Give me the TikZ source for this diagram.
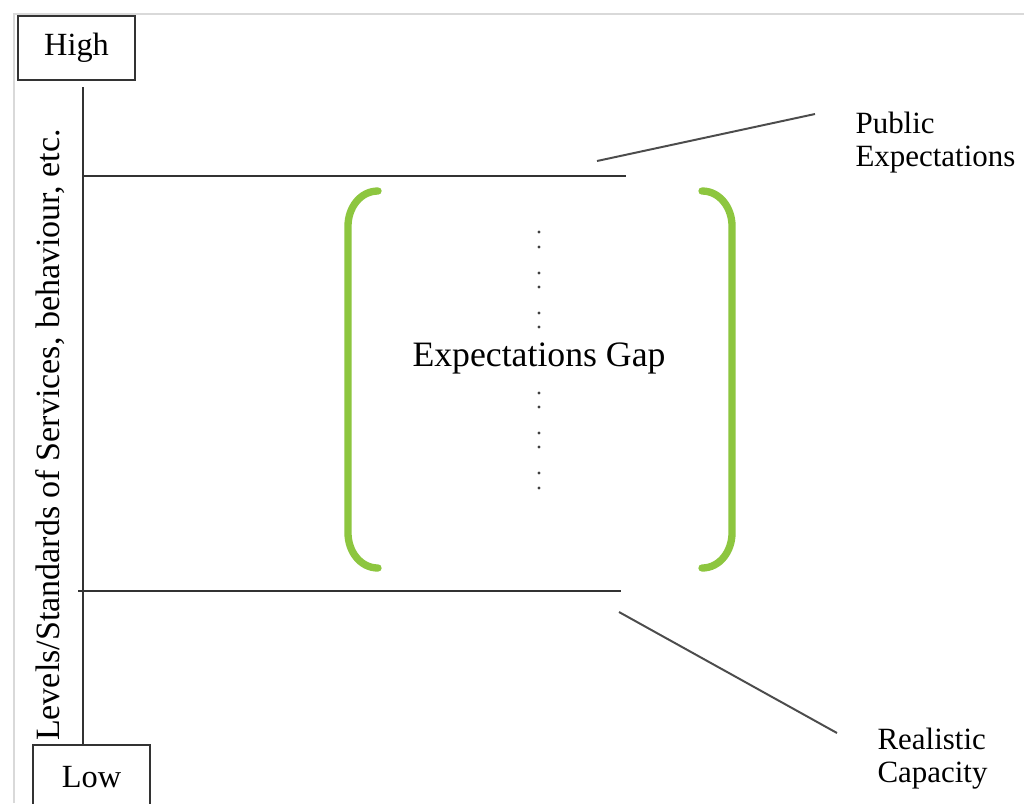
\documentclass[tikz,border=0pt]{standalone}
\usepackage{fontspec}
\setmainfont{Liberation Serif}
\usetikzlibrary{positioning}
\definecolor{gapgreen}{RGB}{141,198,63}

\begin{document}
\begin{tikzpicture}[
    x=0.0125cm, y=-0.0125cm,
    font=\fontsize{11.5}{13}\selectfont,
    level/.style={
		rectangle,
		draw=black!80,
		thick,
		minimum width=1.46cm,
		minimum height=0.8cm,
		fill=white
	},
	markline/.style={
		draw=black!80,
		line width=1pt
	},
	leader/.style={
		draw=black!70,
		line width=0.7pt
	},
	bracket/.style={
		draw=gapgreen,
		line width=2.6pt,
		line cap=round
	},
	tag/.style={
		align=left,
		anchor=north west,
		inner sep=0pt,
		font=\fontsize{11}{11.8}\selectfont
	}
  ]
  \useasboundingbox (0,0) rectangle (1024,803);
  \fill [white] (0,0) rectangle (1024,803);
  % frame of the picture
  \draw [gray!30, line width=0.8pt] (14,803) -- (14,14) -- (1024,14);

    % We start by placing the blocks
  \node [level] (high) at (76.5,48) {High};
  \node [level] (low) at (91.5,777) {Low};

  \coordinate (axistop) at (83,87);
  \draw [markline] (axistop) -- (axistop |- low.north);

  \node [rotate=90, font=\fontsize{12.1}{14}\selectfont] (axislabel) at (50,435) {Levels/Standards of Services, behaviour, etc.};

  % the two levels
  \coordinate (pubA) at (83,176);
  \coordinate (pubB) at (626,176);
  \coordinate (capA) at (78,591);
  \coordinate (capB) at (621,591);
  \draw [markline] (pubA) -- (pubB);
  \draw [markline] (capA) -- (capB);

  \node [tag] (public) at (855,111) {Public\\Expectations};
  \node [tag] (capacity) at (877,727) {Realistic\\Capacity};

  \coordinate (pubL) at (597,161);
  \coordinate (pubR) at (815,114);
  \coordinate (capL) at (619,612);
  \coordinate (capR) at (837,733);
  \draw [leader] (pubL) -- (pubR);
  \draw [leader] (capL) -- (capR);

  % the gap
  \draw [bracket] (378,191) to[out=180,in=90] (348,226) -- (348,533) to[out=-90,in=180] (378,568);
  \draw [bracket] (702,191) to[out=0,in=90] (732,226) -- (732,533) to[out=-90,in=0] (702,568);

  \foreach \y in {232,247,273,287,313,327,393,407,433,447,473,488}
    \fill [black!75] (539,\y) circle (0.6pt);

  \node [fill=white, inner sep=1pt, font=\fontsize{12.7}{14}\selectfont] (gap) at (539,358) {Expectations Gap};

\end{tikzpicture}
\end{document}
